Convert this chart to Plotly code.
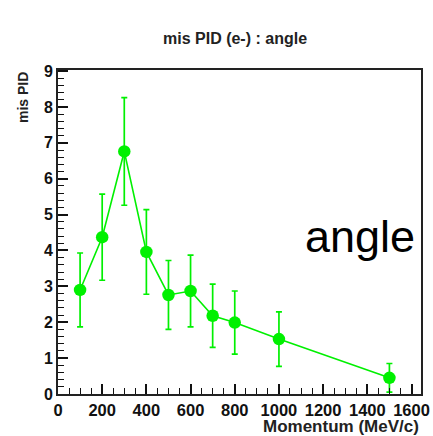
import plotly.graph_objects as go

momentum = [100, 200, 300, 400, 500, 600, 700, 800, 1000, 1500]
mis_pid = [2.90, 4.37, 6.76, 3.96, 2.76, 2.87, 2.18, 1.99, 1.53, 0.45]
err = [1.03, 1.20, 1.50, 1.18, 0.96, 1.00, 0.88, 0.88, 0.76, 0.40]
x_ticks = [0, 200, 400, 600, 800, 1000, 1200, 1400, 1600]
y_ticks = [0, 1, 2, 3, 4, 5, 6, 7, 8, 9]

GREEN = "#00f000"
FONT = "Liberation Sans"

fig = go.Figure()
fig.add_trace(go.Scatter(
    x=momentum, y=mis_pid, mode="lines+markers",
    line=dict(color=GREEN, width=1.6),
    marker=dict(color=GREEN, size=12.5, symbol="circle"),
    error_y=dict(type="data", array=err, visible=True, color=GREEN,
                 thickness=1.7, width=3),
    showlegend=False, cliponaxis=False,
))

fig.update_layout(
    width=433, height=436,
    margin=dict(l=58, r=12, t=70, b=42, autoexpand=False),
    paper_bgcolor="white", plot_bgcolor="white",
    font=dict(family=FONT, color="#111"),
)
fig.update_xaxes(
    range=[0, 1643], tickvals=x_ticks, ticktext=[str(v) for v in x_ticks],
    tickangle=0, automargin=False,
    ticks="inside", ticklen=10, tickwidth=1.5, tickcolor="#111",
    minor=dict(dtick=50, tick0=0, ticks="inside", ticklen=6, tickwidth=1.3, tickcolor="#111"),
    showgrid=False, zeroline=False,
    showline=True, linecolor="#222", linewidth=2, mirror=True,
    tickfont=dict(family=FONT, size=16.5, weight="bold", color="#111"),
    ticklabelstandoff=0,
)
fig.update_yaxes(
    range=[0, 9.03], tickvals=y_ticks, ticktext=[str(v) for v in y_ticks],
    automargin=False,
    ticks="inside", ticklen=10, tickwidth=1.5, tickcolor="#111",
    minor=dict(dtick=0.2, tick0=0, ticks="inside", ticklen=6, tickwidth=1.3, tickcolor="#111"),
    showgrid=False, zeroline=False,
    showline=True, linecolor="#222", linewidth=2, mirror=True,
    tickfont=dict(family=FONT, size=16, weight="bold", color="#111"),
    ticklabelstandoff=0,
)

fig.add_annotation(text="mis PID (e-) : angle", xref="paper", yref="paper",
                   x=(234.6 - 58) / 363, y=1 + (70 - 38) / 324,
                   xanchor="center", yanchor="middle", showarrow=False,
                   font=dict(family=FONT, size=16, weight="bold", color="#222"))
fig.add_annotation(text="Momentum (MeV/c)", xref="paper", yref="paper",
                   x=1.0, y=-(426 - 394) / 324,
                   xanchor="right", yanchor="middle", showarrow=False,
                   font=dict(family=FONT, size=17, weight="bold", color="#222"))
fig.add_annotation(text="mis PID", xref="paper", yref="paper",
                   x=-(58 - 22.5) / 363, y=1.0, textangle=-90,
                   xanchor="center", yanchor="top", showarrow=False,
                   font=dict(family=FONT, size=14, weight="bold", color="#222"))
fig.add_annotation(text="angle", xref="paper", yref="paper",
                   x=(417 - 58) / 363, y=1 - (236 - 70) / 324,
                   xanchor="right", yanchor="middle", showarrow=False,
                   font=dict(family=FONT, size=45, color="#000"))

fig.write_html("out.html", config={"displayModeBar": False},
               post_script="document.body.style.margin='0';document.body.style.padding='0';document.body.style.overflow='hidden';")
